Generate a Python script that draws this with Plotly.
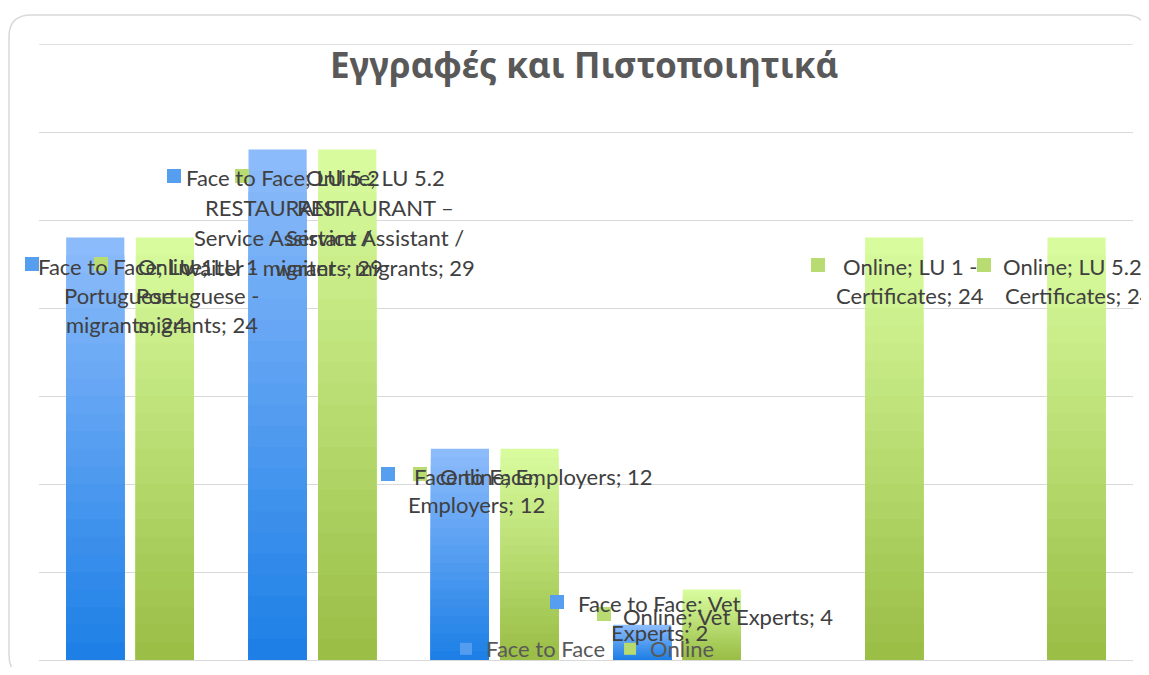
import plotly.graph_objects as go

# ---------------- data ----------------
categories = [
    "LU 1 Portuguese - migrants",
    "LU 5.2 RESTAURANT – Service Assistant / waiter - migrants",
    "Employers",
    "Vet Experts",
    "LU 1 - Certificates",
    "LU 5.2 - Certificates",
]
face_to_face = [24, 29, 12, 2, 0, 0]
online = [24, 29, 12, 4, 24, 24]
series_names = ["Face to Face", "Online"]
title_text = "Εγγραφές και Πιστοποιητικά"

# ---------------- style ----------------
OFF = 8                      # default page margin of the browser body
W, H = 1149 - OFF, 675 - 2 * OFF
X0, X1, YB, YT = 39, 1133, 660, 44  # plot area in page pixels
def px(x):
    return (x - X0) / (X1 - X0)
def py(y):
    return (YB - y) / (YB - YT)

grad = {
    "Face to Face": ((140, 187, 251), (30, 128, 230)),
    "Online": ((216, 251, 158), (154, 190, 70)),
}
bar_width = 0.319
offsets = {"Face to Face": -0.351, "Online": 0.031}
N = 24

fig = go.Figure()
for name, vals in zip(series_names, [face_to_face, online]):
    top, bot = grad[name]
    for k in range(N):
        t = k / (N - 1)
        c = tuple(round(top[i] + (bot[i] - top[i]) * t) for i in range(3))
        frac = (N - k) / N
        fig.add_trace(go.Bar(
            x=categories,
            y=[v * frac for v in vals],
            name=name,
            legendgroup=name,
            showlegend=(k == N // 2),
            marker=dict(color="rgb(%d,%d,%d)" % c, line=dict(width=0)),
            width=bar_width,
            offset=offsets[name],
            hoverinfo="skip",
        ))

# ---------------- data labels (with legend keys) ----------------
label_font = dict(family="Lato, Open Sans, sans-serif", size=22, color="#404040")
labels = [
    # series, lines, center x px, first line y px, line step, key x px, key y px
    ("Face to Face", ["Face to Face; LU 1", "Portuguese -", "migrants; 24"], 126, 266, 29, 32, 264),
    ("Online", ["Online; LU 1", "Portuguese -", "migrants; 24"], 198, 266, 29, 101, 264),
    ("Face to Face", ["Face to Face; LU 5.2", "RESTAURANT –", "Service Assistant /", "waiter - migrants; 29"], 283, 177, 30, 174, 176),
    ("Online", ["Online; LU 5.2", "RESTAURANT –", "Service Assistant /", "waiter - migrants; 29"], 375, 177, 30, 242, 176),
    ("Face to Face", ["Face to Face;", "Employers; 12"], 476, 476, 28, 388, 474),
    ("Online", ["Online; Employers; 12"], 546, 476, 28, 420, 474),
    ("Face to Face", ["Face to Face; Vet", "Experts; 2"], 659, 603, 29, 557, 602),
    ("Online", ["Online; Vet Experts; 4"], 728, 616, 29, 604, 614),
    ("Online", ["Online; LU 1 -", "Certificates; 24"], 910, 266, 29, 818, 265),
    ("Online", ["Online; LU 5.2 -", "Certificates; 24"], 1079, 266, 29, 984, 265),
]
annotations = []
shapes = []
for name, lines, cx, y0, step, kx, ky in labels:
    top, bot = grad[name]
    mid = tuple(round((top[i] + bot[i]) / 2) for i in range(3))
    shapes.append(dict(
        type="rect", xref="paper", yref="paper",
        x0=px(kx - 7), x1=px(kx + 7), y0=py(ky + 7), y1=py(ky - 7),
        fillcolor="rgb(%d,%d,%d)" % mid, line=dict(width=0), layer="above",
    ))
    for i, ln in enumerate(lines):
        annotations.append(dict(
            text=ln, xref="paper", yref="paper",
            x=px(cx), y=py(y0 + i * step),
            xanchor="center", yanchor="middle",
            showarrow=False, font=label_font,
        ))

# title
annotations.append(dict(
    text="<b>" + title_text + "</b>", xref="paper", yref="paper",
    x=px(584), y=py(65), xanchor="center", yanchor="middle", showarrow=False,
    font=dict(family="Noto Sans, Open Sans, sans-serif", size=35, color="#595959"),
))

# top gridline (value 35) at the edge of the plot area
shapes.append(dict(type="line", xref="paper", yref="y", x0=0, x1=1, y0=35, y1=35,
                   line=dict(color="#d9d9d9", width=1.3), layer="below"))

# rounded chart border
L, R, T, B = px(9), px(1147), py(15), py(677)
rx, ry = 22 / (X1 - X0), 22 / (YB - YT)
path = (f"M {L+rx},{T} L {R-rx},{T} Q {R},{T} {R},{T-ry} L {R},{B+ry} Q {R},{B} {R-rx},{B} "
        f"L {L+rx},{B} Q {L},{B} {L},{B+ry} L {L},{T-ry} Q {L},{T} {L+rx},{T} Z")
shapes.append(dict(type="path", xref="paper", yref="paper", path=path,
                   line=dict(color="#d9d9d9", width=1.5), layer="below"))

fig.update_layout(
    width=W, height=H,
    margin=dict(l=X0 - OFF, r=W - (X1 - OFF), t=YT - OFF, b=H - (YB - OFF), autoexpand=False),
    paper_bgcolor="white", plot_bgcolor="white",
    barmode="overlay",
    showlegend=True,
    legend=dict(
        orientation="h", x=px(583), xanchor="center", y=py(649), yanchor="middle",
        bgcolor="rgba(0,0,0,0)", font=dict(family="Lato, Open Sans, sans-serif", size=22, color="#595959"),
        itemwidth=30, traceorder="normal",
    ),
    xaxis=dict(showticklabels=False, showgrid=False, showline=False, zeroline=False,
               ticks="", range=[-0.5, 5.5], automargin=False),
    yaxis=dict(range=[0, 35], tick0=0, dtick=5, showticklabels=False, showgrid=True,
               gridcolor="#d9d9d9", gridwidth=1.3, zeroline=True, zerolinecolor="#d9d9d9",
               zerolinewidth=1.3, showline=False, ticks="", automargin=False),
    annotations=annotations,
    shapes=shapes,
)

fig.write_html("out.html")
